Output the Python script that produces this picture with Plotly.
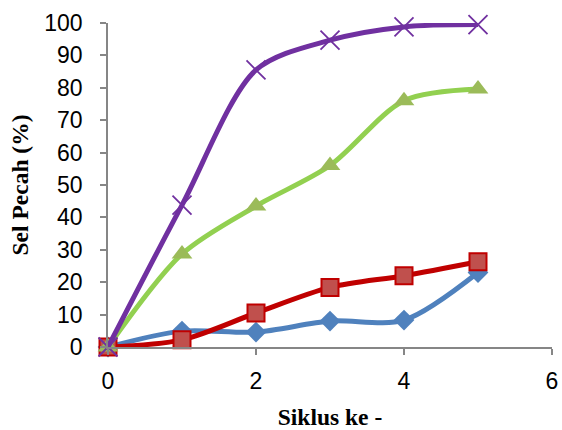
import plotly.graph_objects as go

siklus = [0, 1, 2, 3, 4, 5]
series_a = [0, 4.9, 4.6, 8.0, 8.3, 23.0]      # blue diamonds
series_b = [0, 2.2, 10.5, 18.4, 22.0, 26.3]   # red squares
series_c = [0, 28.7, 43.5, 56.0, 76.0, 79.6]  # green triangles
series_d = [0, 43.8, 85.5, 94.7, 98.8, 99.5]  # purple x
x_ticks = [0, 2, 4, 6]
y_ticks = list(range(0, 101, 10))

SM = 0.85
fig = go.Figure()
fig.add_trace(go.Scatter(
    x=siklus, y=series_a, mode="lines+markers",
    line=dict(color="#4F81BD", width=5, shape="spline", smoothing=SM),
    marker=dict(symbol="diamond", size=16, color="#4F81BD", line=dict(width=0)),
))
fig.add_trace(go.Scatter(
    x=siklus, y=series_b, mode="lines+markers",
    line=dict(color="#C00000", width=5, shape="spline", smoothing=SM),
    marker=dict(symbol="square", size=17, color="#C0504D", line=dict(width=2, color="#C00000")),
))
fig.add_trace(go.Scatter(
    x=siklus, y=series_c, mode="lines+markers",
    line=dict(color="#92D050", width=5, shape="spline", smoothing=SM),
    marker=dict(symbol="triangle-up", size=18, color="#9BBB59", line=dict(width=0)),
))
fig.add_trace(go.Scatter(
    x=siklus, y=series_d, mode="lines+markers",
    line=dict(color="#7030A0", width=5, shape="spline", smoothing=SM),
    marker=dict(symbol="x-thin-open", size=19, color="#7030A0", line=dict(width=1.8, color="#7030A0")),
))

fig.update_layout(
    width=562, height=430,
    margin=dict(l=108, r=10, t=23, b=83),
    paper_bgcolor="white", plot_bgcolor="white",
    showlegend=False,
    font=dict(family="Liberation Sans", size=23, color="black"),
)
fig.update_xaxes(
    range=[0, 6], tickvals=x_ticks, ticktext=[str(t) for t in x_ticks],
    showgrid=False, zeroline=False, showline=True, linecolor="#868686", linewidth=1.5,
    ticks="outside", ticklen=6, tickcolor="#868686", tickwidth=1.5,
    ticklabelstandoff=7, automargin=False,
    title=dict(text="<b>Siklus ke -</b>", font=dict(family="Liberation Serif", size=23.5), standoff=15),
)
fig.update_yaxes(
    range=[0, 100], tickvals=y_ticks,
    showgrid=False, zeroline=False, showline=True, linecolor="#868686", linewidth=1.5,
    ticks="outside", ticklen=6, tickcolor="#868686", tickwidth=1.5,
    ticklabelstandoff=13, automargin=False,
    title=dict(text="<b>Sel Pecah (%)</b>", font=dict(family="Liberation Serif", size=23.5), standoff=9),
)
fig.update_traces(cliponaxis=False)
fig.write_html("out.html")
